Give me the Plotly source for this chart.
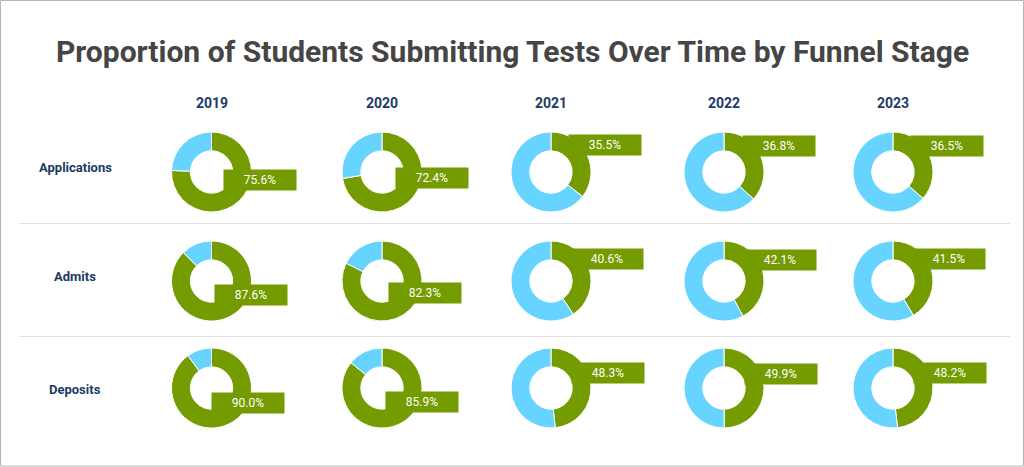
import math
import plotly.graph_objects as go

W, H = 1024, 467

years = ["2019", "2020", "2021", "2022", "2023"]
stages = ["Applications", "Admits", "Deposits"]

# percent of students submitting tests, one list per stage (2019..2023)
applications = [75.6, 72.4, 35.5, 36.8, 36.5]
admits = [87.6, 82.3, 40.6, 42.1, 41.5]
deposits = [90.0, 85.9, 48.3, 49.9, 48.2]

GREEN = "#749b00"
BLUE = "#66d4ff"
NAVY = "#1d3a66"

# pixel centres of the donut grid
col_x = [211.5, 382, 551, 724, 893]
row_y = [172, 281, 388]
label_y = [167, 276, 389]
R = 40


def px(x):
    return x / W


def py(y):
    return 1 - y / H


fig = go.Figure()
annotations = []

for r, (stage, vals) in enumerate(zip(stages, [applications, admits, deposits])):
    cy = row_y[r]
    for c, v in enumerate(vals):
        cx = col_x[c]
        fig.add_trace(go.Pie(
            values=[v, 100 - v],
            labels=["Submitted", "Not submitted"],
            sort=False,
            direction="clockwise",
            rotation=0,
            hole=0.53,
            marker=dict(colors=[GREEN, BLUE], line=dict(color="white", width=1)),
            textinfo="none",
            hoverinfo="skip",
            showlegend=False,
            domain=dict(x=[px(cx - R), px(cx + R)], y=[py(cy + R), py(cy - R)]),
        ))
        # label sits off the middle of the green arc
        theta = math.radians(v / 100 * 180)
        annotations.append(dict(
            x=px(cx), y=py(cy), xref="paper", yref="paper",
            xanchor="center", yanchor="middle",
            xshift=28 + 29 * math.sin(theta),
            yshift=13.7 + 30.2 * math.cos(theta),
            text=f"{v:.1f}%", showarrow=False,
            width=70, height=18, borderpad=1, bgcolor=GREEN,
            font=dict(family="Roboto", size=12, color="white"),
        ))
    annotations.append(dict(
        x=px(75), y=py(label_y[r]), xref="paper", yref="paper",
        xanchor="center", yanchor="middle",
        text=f"<b>{stage}</b>", showarrow=False,
        font=dict(family="Roboto", size=13, color=NAVY),
    ))

for c, yr in enumerate(years):
    annotations.append(dict(
        x=px(col_x[c]), y=py(103), xref="paper", yref="paper",
        xanchor="center", yanchor="middle",
        text=f"<b>{yr}</b>", showarrow=False,
        font=dict(family="Roboto", size=14, color=NAVY),
    ))

annotations.append(dict(
    x=0.5, y=py(52), xref="paper", yref="paper",
    xanchor="center", yanchor="middle",
    text="<b>Proportion of Students Submitting Tests Over Time by Funnel Stage</b>",
    showarrow=False,
    font=dict(family="Roboto", size=30, color="#454545"),
))

shapes = [
    dict(type="line", xref="paper", yref="paper",
         x0=px(19), x1=px(1010), y0=py(y), y1=py(y),
         line=dict(color="#e2e2e2", width=1))
    for y in [223.5, 336.5]
]
shapes.append(dict(type="rect", xref="paper", yref="paper",
                   x0=px(0.5), x1=px(1023.5), y0=py(466), y1=py(0.5),
                   line=dict(color="#b5b5b5", width=1)))

fig.update_layout(
    width=W, height=H,
    margin=dict(l=0, r=0, t=0, b=0),
    paper_bgcolor="white",
    plot_bgcolor="white",
    annotations=annotations,
    shapes=shapes,
)

fig.write_html("out.html", config={"displayModeBar": False},
               post_script="document.body.style.margin='0';")
